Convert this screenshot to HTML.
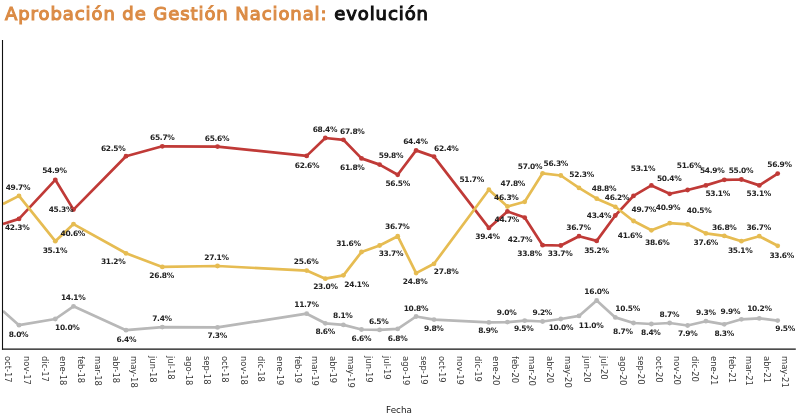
<!DOCTYPE html>
<html><head><meta charset="utf-8"><title>Aprobación de Gestión Nacional: evolución</title>
<style>
html,body{margin:0;padding:0;background:#fff;}
#root{position:relative;width:800px;height:419px;overflow:hidden;background:#fff;}
h1{will-change:transform;position:absolute;left:5px;top:3px;margin:0;font-family:"DejaVu Sans", "Liberation Sans", sans-serif;font-weight:normal;font-size:18px;line-height:22px;color:#DB8B45;white-space:nowrap;letter-spacing:0.92px;-webkit-text-stroke:1.1px #DB8B45;}
h1 span{color:#111;-webkit-text-stroke:1.1px #111;}
svg{position:absolute;left:0;top:0;will-change:transform;}
.dl{font-family:"DejaVu Sans", "Liberation Sans", sans-serif;font-weight:bold;font-size:7.5px;fill:#222;text-anchor:middle;letter-spacing:-0.3px;}
.xl{font-family:"DejaVu Sans", "Liberation Sans", sans-serif;font-size:8.4px;fill:#383838;}
.ft{font-family:"DejaVu Sans", "Liberation Sans", sans-serif;font-size:8.8px;fill:#1a1a1a;}
</style></head>
<body><div id="root">
<h1>Aprobación de Gestión Nacional: <span>evolución</span></h1>
<svg width="800" height="419" viewBox="0 0 800 419">
<polyline points="3.0,224.0 19.0,218.9 55.3,179.8 73.5,209.6 126.0,156.2 162.3,146.3 217.5,146.6 306.7,155.9 325.3,138.0 343.4,139.8 361.5,158.4 379.6,164.6 397.7,174.8 416.1,150.4 434.0,156.6 488.9,227.9 507.4,211.4 524.7,217.6 542.6,245.2 560.8,245.5 579.0,236.2 596.7,240.9 615.3,215.5 633.5,195.9 651.4,185.4 669.7,193.8 687.6,190.0 705.9,185.4 724.3,179.8 741.4,179.5 759.3,185.4 777.7,173.6" fill="none" stroke="#C03A37" stroke-width="2.7" stroke-linejoin="round"/>
<polyline points="3.0,204.0 19.0,195.9 55.3,241.2 73.5,224.1 126.0,253.3 162.3,266.9 217.5,266.0 306.7,270.6 325.3,278.7 343.4,275.3 361.5,252.0 379.6,245.5 397.7,236.2 416.1,273.1 434.0,263.8 488.9,189.7 507.4,206.5 524.7,201.8 542.6,173.3 560.8,175.5 579.0,187.9 596.7,198.7 615.3,206.8 633.5,221.0 651.4,230.3 669.7,223.2 687.6,224.4 705.9,233.4 724.3,235.9 741.4,241.2 759.3,236.2 777.7,245.8" fill="none" stroke="#E6BC52" stroke-width="2.7" stroke-linejoin="round"/>
<polyline points="3.0,311.0 19.0,325.2 55.3,319.0 73.5,306.3 126.0,330.2 162.3,327.1 217.5,327.4 306.7,313.7 325.3,323.3 343.4,324.9 361.5,329.5 379.6,329.9 397.7,328.9 416.1,316.5 434.0,319.6 488.9,322.4 507.4,322.1 524.7,320.6 542.6,321.5 560.8,319.0 579.0,315.9 596.7,300.4 615.3,317.4 633.5,323.0 651.4,324.0 669.7,323.0 687.6,325.5 705.9,321.2 724.3,324.3 741.4,319.3 759.3,318.4 777.7,320.6" fill="none" stroke="#B8B8B8" stroke-width="2.7" stroke-linejoin="round"/>
<circle cx="19.0" cy="218.9" r="2.4" fill="#C03A37"/>
<circle cx="55.3" cy="179.8" r="2.4" fill="#C03A37"/>
<circle cx="73.5" cy="209.6" r="2.4" fill="#C03A37"/>
<circle cx="126.0" cy="156.2" r="2.4" fill="#C03A37"/>
<circle cx="162.3" cy="146.3" r="2.4" fill="#C03A37"/>
<circle cx="217.5" cy="146.6" r="2.4" fill="#C03A37"/>
<circle cx="306.7" cy="155.9" r="2.4" fill="#C03A37"/>
<circle cx="325.3" cy="138.0" r="2.4" fill="#C03A37"/>
<circle cx="343.4" cy="139.8" r="2.4" fill="#C03A37"/>
<circle cx="361.5" cy="158.4" r="2.4" fill="#C03A37"/>
<circle cx="379.6" cy="164.6" r="2.4" fill="#C03A37"/>
<circle cx="397.7" cy="174.8" r="2.4" fill="#C03A37"/>
<circle cx="416.1" cy="150.4" r="2.4" fill="#C03A37"/>
<circle cx="434.0" cy="156.6" r="2.4" fill="#C03A37"/>
<circle cx="488.9" cy="227.9" r="2.4" fill="#C03A37"/>
<circle cx="507.4" cy="211.4" r="2.4" fill="#C03A37"/>
<circle cx="524.7" cy="217.6" r="2.4" fill="#C03A37"/>
<circle cx="542.6" cy="245.2" r="2.4" fill="#C03A37"/>
<circle cx="560.8" cy="245.5" r="2.4" fill="#C03A37"/>
<circle cx="579.0" cy="236.2" r="2.4" fill="#C03A37"/>
<circle cx="596.7" cy="240.9" r="2.4" fill="#C03A37"/>
<circle cx="615.3" cy="215.5" r="2.4" fill="#C03A37"/>
<circle cx="633.5" cy="195.9" r="2.4" fill="#C03A37"/>
<circle cx="651.4" cy="185.4" r="2.4" fill="#C03A37"/>
<circle cx="669.7" cy="193.8" r="2.4" fill="#C03A37"/>
<circle cx="687.6" cy="190.0" r="2.4" fill="#C03A37"/>
<circle cx="705.9" cy="185.4" r="2.4" fill="#C03A37"/>
<circle cx="724.3" cy="179.8" r="2.4" fill="#C03A37"/>
<circle cx="741.4" cy="179.5" r="2.4" fill="#C03A37"/>
<circle cx="759.3" cy="185.4" r="2.4" fill="#C03A37"/>
<circle cx="777.7" cy="173.6" r="2.4" fill="#C03A37"/>
<circle cx="19.0" cy="195.9" r="2.4" fill="#E6BC52"/>
<circle cx="55.3" cy="241.2" r="2.4" fill="#E6BC52"/>
<circle cx="73.5" cy="224.1" r="2.4" fill="#E6BC52"/>
<circle cx="126.0" cy="253.3" r="2.4" fill="#E6BC52"/>
<circle cx="162.3" cy="266.9" r="2.4" fill="#E6BC52"/>
<circle cx="217.5" cy="266.0" r="2.4" fill="#E6BC52"/>
<circle cx="306.7" cy="270.6" r="2.4" fill="#E6BC52"/>
<circle cx="325.3" cy="278.7" r="2.4" fill="#E6BC52"/>
<circle cx="343.4" cy="275.3" r="2.4" fill="#E6BC52"/>
<circle cx="361.5" cy="252.0" r="2.4" fill="#E6BC52"/>
<circle cx="379.6" cy="245.5" r="2.4" fill="#E6BC52"/>
<circle cx="397.7" cy="236.2" r="2.4" fill="#E6BC52"/>
<circle cx="416.1" cy="273.1" r="2.4" fill="#E6BC52"/>
<circle cx="434.0" cy="263.8" r="2.4" fill="#E6BC52"/>
<circle cx="488.9" cy="189.7" r="2.4" fill="#E6BC52"/>
<circle cx="507.4" cy="206.5" r="2.4" fill="#E6BC52"/>
<circle cx="524.7" cy="201.8" r="2.4" fill="#E6BC52"/>
<circle cx="542.6" cy="173.3" r="2.4" fill="#E6BC52"/>
<circle cx="560.8" cy="175.5" r="2.4" fill="#E6BC52"/>
<circle cx="579.0" cy="187.9" r="2.4" fill="#E6BC52"/>
<circle cx="596.7" cy="198.7" r="2.4" fill="#E6BC52"/>
<circle cx="615.3" cy="206.8" r="2.4" fill="#E6BC52"/>
<circle cx="633.5" cy="221.0" r="2.4" fill="#E6BC52"/>
<circle cx="651.4" cy="230.3" r="2.4" fill="#E6BC52"/>
<circle cx="669.7" cy="223.2" r="2.4" fill="#E6BC52"/>
<circle cx="687.6" cy="224.4" r="2.4" fill="#E6BC52"/>
<circle cx="705.9" cy="233.4" r="2.4" fill="#E6BC52"/>
<circle cx="724.3" cy="235.9" r="2.4" fill="#E6BC52"/>
<circle cx="741.4" cy="241.2" r="2.4" fill="#E6BC52"/>
<circle cx="759.3" cy="236.2" r="2.4" fill="#E6BC52"/>
<circle cx="777.7" cy="245.8" r="2.4" fill="#E6BC52"/>
<circle cx="19.0" cy="325.2" r="2.4" fill="#B8B8B8"/>
<circle cx="55.3" cy="319.0" r="2.4" fill="#B8B8B8"/>
<circle cx="73.5" cy="306.3" r="2.4" fill="#B8B8B8"/>
<circle cx="126.0" cy="330.2" r="2.4" fill="#B8B8B8"/>
<circle cx="162.3" cy="327.1" r="2.4" fill="#B8B8B8"/>
<circle cx="217.5" cy="327.4" r="2.4" fill="#B8B8B8"/>
<circle cx="306.7" cy="313.7" r="2.4" fill="#B8B8B8"/>
<circle cx="325.3" cy="323.3" r="2.4" fill="#B8B8B8"/>
<circle cx="343.4" cy="324.9" r="2.4" fill="#B8B8B8"/>
<circle cx="361.5" cy="329.5" r="2.4" fill="#B8B8B8"/>
<circle cx="379.6" cy="329.9" r="2.4" fill="#B8B8B8"/>
<circle cx="397.7" cy="328.9" r="2.4" fill="#B8B8B8"/>
<circle cx="416.1" cy="316.5" r="2.4" fill="#B8B8B8"/>
<circle cx="434.0" cy="319.6" r="2.4" fill="#B8B8B8"/>
<circle cx="488.9" cy="322.4" r="2.4" fill="#B8B8B8"/>
<circle cx="507.4" cy="322.1" r="2.4" fill="#B8B8B8"/>
<circle cx="524.7" cy="320.6" r="2.4" fill="#B8B8B8"/>
<circle cx="542.6" cy="321.5" r="2.4" fill="#B8B8B8"/>
<circle cx="560.8" cy="319.0" r="2.4" fill="#B8B8B8"/>
<circle cx="579.0" cy="315.9" r="2.4" fill="#B8B8B8"/>
<circle cx="596.7" cy="300.4" r="2.4" fill="#B8B8B8"/>
<circle cx="615.3" cy="317.4" r="2.4" fill="#B8B8B8"/>
<circle cx="633.5" cy="323.0" r="2.4" fill="#B8B8B8"/>
<circle cx="651.4" cy="324.0" r="2.4" fill="#B8B8B8"/>
<circle cx="669.7" cy="323.0" r="2.4" fill="#B8B8B8"/>
<circle cx="687.6" cy="325.5" r="2.4" fill="#B8B8B8"/>
<circle cx="705.9" cy="321.2" r="2.4" fill="#B8B8B8"/>
<circle cx="724.3" cy="324.3" r="2.4" fill="#B8B8B8"/>
<circle cx="741.4" cy="319.3" r="2.4" fill="#B8B8B8"/>
<circle cx="759.3" cy="318.4" r="2.4" fill="#B8B8B8"/>
<circle cx="777.7" cy="320.6" r="2.4" fill="#B8B8B8"/>
<text x="17.2" y="230.0" class="dl">42.3%</text>
<text x="54.4" y="173.4" class="dl">54.9%</text>
<text x="60.9" y="212.3" class="dl">45.3%</text>
<text x="113.2" y="150.6" class="dl">62.5%</text>
<text x="162.3" y="140.3" class="dl">65.7%</text>
<text x="217.0" y="141.3" class="dl">65.6%</text>
<text x="307.0" y="168.1" class="dl">62.6%</text>
<text x="324.9" y="131.8" class="dl">68.4%</text>
<text x="352.3" y="133.7" class="dl">67.8%</text>
<text x="352.3" y="170.0" class="dl">61.8%</text>
<text x="391.0" y="157.6" class="dl">59.8%</text>
<text x="397.7" y="185.5" class="dl">56.5%</text>
<text x="415.4" y="143.7" class="dl">64.4%</text>
<text x="446.3" y="150.9" class="dl">62.4%</text>
<text x="487.5" y="239.2" class="dl">39.4%</text>
<text x="506.8" y="222.4" class="dl">44.7%</text>
<text x="520.0" y="241.5" class="dl">42.7%</text>
<text x="529.5" y="255.7" class="dl">33.8%</text>
<text x="560.1" y="255.7" class="dl">33.7%</text>
<text x="578.5" y="230.2" class="dl">36.7%</text>
<text x="596.4" y="252.8" class="dl">35.2%</text>
<text x="599.0" y="217.9" class="dl">43.4%</text>
<text x="643.8" y="212.4" class="dl">49.7%</text>
<text x="643.0" y="171.3" class="dl">53.1%</text>
<text x="669.2" y="181.3" class="dl">50.4%</text>
<text x="689.0" y="168.0" class="dl">51.6%</text>
<text x="717.7" y="196.4" class="dl">53.1%</text>
<text x="712.2" y="173.2" class="dl">54.9%</text>
<text x="740.9" y="172.5" class="dl">55.0%</text>
<text x="758.8" y="196.4" class="dl">53.1%</text>
<text x="779.5" y="166.5" class="dl">56.9%</text>
<text x="17.9" y="190.1" class="dl">49.7%</text>
<text x="54.9" y="252.9" class="dl">35.1%</text>
<text x="72.8" y="235.5" class="dl">40.6%</text>
<text x="113.2" y="264.4" class="dl">31.2%</text>
<text x="161.6" y="277.6" class="dl">26.8%</text>
<text x="216.5" y="260.0" class="dl">27.1%</text>
<text x="306.1" y="264.2" class="dl">25.6%</text>
<text x="325.4" y="288.9" class="dl">23.0%</text>
<text x="356.6" y="286.8" class="dl">24.1%</text>
<text x="348.4" y="246.0" class="dl">31.6%</text>
<text x="390.9" y="255.6" class="dl">33.7%</text>
<text x="397.3" y="229.4" class="dl">36.7%</text>
<text x="415.1" y="283.8" class="dl">24.8%</text>
<text x="446.1" y="274.3" class="dl">27.8%</text>
<text x="471.7" y="181.8" class="dl">51.7%</text>
<text x="506.3" y="200.0" class="dl">46.3%</text>
<text x="512.8" y="186.1" class="dl">47.8%</text>
<text x="530.0" y="168.9" class="dl">57.0%</text>
<text x="555.8" y="165.8" class="dl">56.3%</text>
<text x="581.6" y="176.6" class="dl">52.3%</text>
<text x="604.0" y="190.7" class="dl">48.8%</text>
<text x="617.0" y="199.5" class="dl">46.2%</text>
<text x="630.0" y="237.5" class="dl">41.6%</text>
<text x="657.3" y="244.6" class="dl">38.6%</text>
<text x="668.0" y="210.0" class="dl">40.9%</text>
<text x="699.1" y="213.2" class="dl">40.5%</text>
<text x="705.8" y="244.7" class="dl">37.6%</text>
<text x="724.3" y="229.5" class="dl">36.8%</text>
<text x="740.2" y="252.8" class="dl">35.1%</text>
<text x="758.7" y="230.4" class="dl">36.7%</text>
<text x="781.7" y="257.7" class="dl">33.6%</text>
<text x="18.5" y="336.7" class="dl">8.0%</text>
<text x="67.3" y="329.7" class="dl">10.0%</text>
<text x="73.2" y="300.4" class="dl">14.1%</text>
<text x="126.4" y="341.6" class="dl">6.4%</text>
<text x="162.0" y="320.7" class="dl">7.4%</text>
<text x="217.2" y="338.4" class="dl">7.3%</text>
<text x="306.5" y="306.5" class="dl">11.7%</text>
<text x="325.2" y="333.9" class="dl">8.6%</text>
<text x="342.8" y="318.0" class="dl">8.1%</text>
<text x="361.4" y="341.3" class="dl">6.6%</text>
<text x="378.7" y="323.8" class="dl">6.5%</text>
<text x="397.6" y="340.8" class="dl">6.8%</text>
<text x="415.9" y="310.6" class="dl">10.8%</text>
<text x="433.8" y="331.1" class="dl">9.8%</text>
<text x="488.0" y="333.1" class="dl">8.9%</text>
<text x="506.6" y="315.3" class="dl">9.0%</text>
<text x="523.7" y="331.1" class="dl">9.5%</text>
<text x="542.3" y="315.3" class="dl">9.2%</text>
<text x="560.9" y="330.0" class="dl">10.0%</text>
<text x="591.1" y="327.7" class="dl">11.0%</text>
<text x="596.6" y="293.6" class="dl">16.0%</text>
<text x="627.6" y="310.6" class="dl">10.5%</text>
<text x="622.9" y="333.9" class="dl">8.7%</text>
<text x="650.8" y="334.7" class="dl">8.4%</text>
<text x="669.4" y="316.8" class="dl">8.7%</text>
<text x="687.7" y="336.2" class="dl">7.9%</text>
<text x="705.9" y="314.5" class="dl">9.3%</text>
<text x="724.2" y="336.2" class="dl">8.3%</text>
<text x="730.4" y="313.7" class="dl">9.9%</text>
<text x="759.4" y="311.4" class="dl">10.2%</text>
<text x="785.1" y="331.1" class="dl">9.5%</text>
<line x1="2.5" y1="40" x2="2.5" y2="349.7" stroke="#111" stroke-width="1.1"/>
<line x1="1.95" y1="349.15" x2="795.8" y2="349.15" stroke="#111" stroke-width="1.1"/>
<text class="xl" transform="translate(5.4,356) rotate(90)">oct-17</text>
<text class="xl" transform="translate(23.8,356) rotate(90)">nov-17</text>
<text class="xl" transform="translate(41.6,356) rotate(90)">dic-17</text>
<text class="xl" transform="translate(60.0,356) rotate(90)">ene-18</text>
<text class="xl" transform="translate(78.4,356) rotate(90)">feb-18</text>
<text class="xl" transform="translate(95.0,356) rotate(90)">mar-18</text>
<text class="xl" transform="translate(113.4,356) rotate(90)">abr-18</text>
<text class="xl" transform="translate(131.3,356) rotate(90)">may-18</text>
<text class="xl" transform="translate(149.7,356) rotate(90)">jun-18</text>
<text class="xl" transform="translate(167.5,356) rotate(90)">jul-18</text>
<text class="xl" transform="translate(185.9,356) rotate(90)">ago-18</text>
<text class="xl" transform="translate(204.3,356) rotate(90)">sep-18</text>
<text class="xl" transform="translate(222.1,356) rotate(90)">oct-18</text>
<text class="xl" transform="translate(240.5,356) rotate(90)">nov-18</text>
<text class="xl" transform="translate(258.3,356) rotate(90)">dic-18</text>
<text class="xl" transform="translate(276.7,356) rotate(90)">ene-19</text>
<text class="xl" transform="translate(295.1,356) rotate(90)">feb-19</text>
<text class="xl" transform="translate(311.7,356) rotate(90)">mar-19</text>
<text class="xl" transform="translate(330.1,356) rotate(90)">abr-19</text>
<text class="xl" transform="translate(347.9,356) rotate(90)">may-19</text>
<text class="xl" transform="translate(366.3,356) rotate(90)">jun-19</text>
<text class="xl" transform="translate(384.2,356) rotate(90)">jul-19</text>
<text class="xl" transform="translate(402.6,356) rotate(90)">ago-19</text>
<text class="xl" transform="translate(421.0,356) rotate(90)">sep-19</text>
<text class="xl" transform="translate(438.8,356) rotate(90)">oct-19</text>
<text class="xl" transform="translate(457.2,356) rotate(90)">nov-19</text>
<text class="xl" transform="translate(475.0,356) rotate(90)">dic-19</text>
<text class="xl" transform="translate(493.4,356) rotate(90)">ene-20</text>
<text class="xl" transform="translate(511.8,356) rotate(90)">feb-20</text>
<text class="xl" transform="translate(529.0,356) rotate(90)">mar-20</text>
<text class="xl" transform="translate(547.4,356) rotate(90)">abr-20</text>
<text class="xl" transform="translate(565.2,356) rotate(90)">may-20</text>
<text class="xl" transform="translate(583.6,356) rotate(90)">jun-20</text>
<text class="xl" transform="translate(601.4,356) rotate(90)">jul-20</text>
<text class="xl" transform="translate(619.8,356) rotate(90)">ago-20</text>
<text class="xl" transform="translate(638.2,356) rotate(90)">sep-20</text>
<text class="xl" transform="translate(656.0,356) rotate(90)">oct-20</text>
<text class="xl" transform="translate(674.4,356) rotate(90)">nov-20</text>
<text class="xl" transform="translate(692.3,356) rotate(90)">dic-20</text>
<text class="xl" transform="translate(710.7,356) rotate(90)">ene-21</text>
<text class="xl" transform="translate(729.1,356) rotate(90)">feb-21</text>
<text class="xl" transform="translate(745.7,356) rotate(90)">mar-21</text>
<text class="xl" transform="translate(764.1,356) rotate(90)">abr-21</text>
<text class="xl" transform="translate(781.9,356) rotate(90)">may-21</text>
<text x="399" y="412.5" class="ft" text-anchor="middle">Fecha</text>
</svg>
</div></body></html>
